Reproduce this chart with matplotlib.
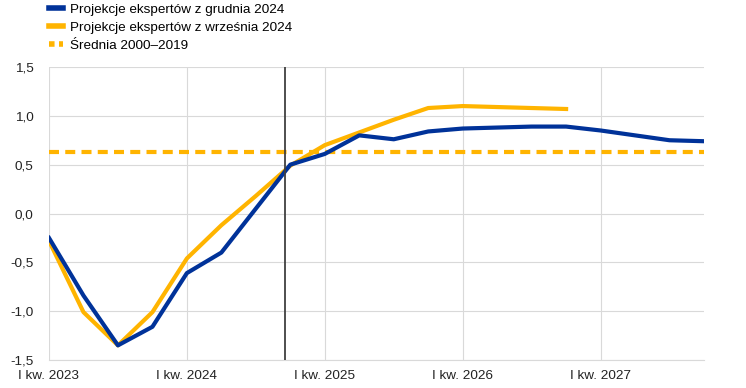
"""Projekcje ekspertow - porownanie grudzien / wrzesien 2024."""


# --- import --------------------------------------------------------------------------------------


import matplotlib

matplotlib.use("Agg")

import matplotlib.pyplot as plt
from matplotlib.lines import Line2D
from matplotlib.ticker import FuncFormatter


# --- data ----------------------------------------------------------------------------------------


quarters = [f"{q} kw. {y}" for y in range(2023, 2028) for q in ["I", "II", "III", "IV"]]
year_ticks = [0, 4, 8, 12, 16]
year_labels = ["I kw. 2023", "I kw. 2024", "I kw. 2025", "I kw. 2026", "I kw. 2027"]

dec_2024 = [-0.25, -0.84, -1.35, -1.16, -0.61, -0.40, 0.05, 0.50, 0.61, 0.80,
            0.76, 0.84, 0.87, 0.88, 0.89, 0.89, 0.85, 0.80, 0.75, 0.74]
sep_2024 = [-0.28, -1.01, -1.35, -1.01, -0.46, -0.12, 0.18, 0.49, 0.70, 0.83,
            0.96, 1.08, 1.10, 1.09, 1.08, 1.07]
avg_2000_2019 = 0.63
cutoff = 6.85

labels = [
    "Projekcje ekspertów z grudnia 2024",
    "Projekcje ekspertów z września 2024",
    "Średnia 2000–2019",
]

# --- define --------------------------------------------------------------------------------------


blue = "#003299"
yellow = "#FFB400"
grid_c = "#d9d9d9"
plt.rcParams["font.family"] = ["Liberation Sans", "DejaVu Sans"]
plt.rcParams["font.size"] = 9.7

# --- plot ----------------------------------------------------------------------------------------


fig = plt.figure(figsize=(7.46, 3.88), dpi=100)
ax = fig.add_axes([49 / 746, 1 - 360 / 388, (704 - 49) / 746, (360 - 67) / 388])

x_dec = list(range(len(dec_2024)))
x_sep = list(range(len(sep_2024)))
ax.axhline(avg_2000_2019, c=yellow, lw=3, dashes=(2.4, 1.5), zorder=2)
ax.plot(x_sep, sep_2024, c=yellow, lw=3, zorder=3)
ax.plot(x_dec, dec_2024, c=blue, lw=3, zorder=4)
ax.axvline(cutoff, c="#404040", lw=1.3, zorder=5)

ax.set_xlim(0, len(quarters) - 1)
ax.set_ylim(-1.5, 1.5)
ax.set_yticks([-1.5, -1.0, -0.5, 0.0, 0.5, 1.0, 1.5])
ax.yaxis.set_major_formatter(FuncFormatter(lambda v, p: f"{v:.1f}".replace(".", ",")))
ax.set_xticks(year_ticks)
ax.set_xticklabels(year_labels)
ax.grid(True, color=grid_c, lw=0.8)
ax.set_axisbelow(True)
ax.tick_params(length=0, colors="#222222")
ax.tick_params(axis="x", pad=7)
ax.tick_params(axis="y", pad=11)
for side in ["top", "right", "left"]:
    ax.spines[side].set_visible(False)
ax.spines["bottom"].set_color(grid_c)

# legend
handles = [
    Line2D([], [], c=blue, lw=4),
    Line2D([], [], c=yellow, lw=4),
    Line2D([], [], c=yellow, lw=4, dashes=(1, 0.8)),
]
fig.legend(
    handles,
    labels,
    loc="upper left",
    bbox_to_anchor=(0.05, 1.022),
    frameon=False,
    handlelength=1.0,
    handletextpad=0.55,
    labelspacing=0.42,
    fontsize=9.7,
)

fig.savefig("out.png", dpi=100)
